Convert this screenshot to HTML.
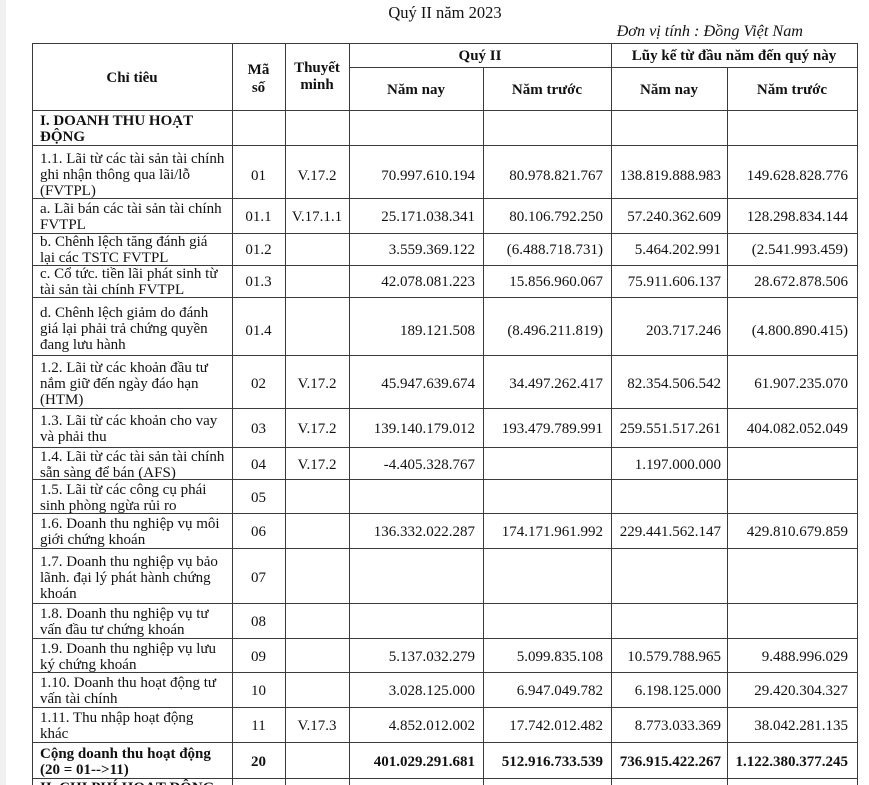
<!DOCTYPE html>
<html><head><meta charset="utf-8"><style>
html{margin:0;padding:0;width:869px;height:785px;overflow:hidden}
body{margin:0;padding:0;width:869px;height:785px;overflow:hidden;background:#fff;position:relative;font-family:"Liberation Serif",serif;color:#111;font-size:15px}
.strip{position:absolute;left:0;top:0;width:6px;height:785px;background:#f1f1f1}
.h{position:absolute;left:32px;width:826px;height:1.6px;background:#3a3a3a}
.v{position:absolute;width:1.6px;background:#3a3a3a}
.r{position:absolute;left:0;width:869px}
.r>div{position:absolute;top:0;bottom:0;display:flex;align-items:center;line-height:16px;white-space:nowrap}
.t{left:40px;width:190px}
.m{left:232px;width:53px;justify-content:center}
.n{left:285px;width:64px;justify-content:center}
.a1{left:349px;width:126px;justify-content:flex-end}
.a2{left:483px;width:120px;justify-content:flex-end}
.a3{left:611px;width:110px;justify-content:flex-end}
.a4{left:727px;width:121px;justify-content:flex-end}
.b{font-weight:bold}
.hd{position:absolute;display:flex;align-items:center;justify-content:center;text-align:center;font-weight:bold;line-height:17px}
</style></head><body>
<div class="strip"></div>

<div style="position:absolute;left:0;top:3px;width:890px;text-align:center;font-size:16.5px;line-height:20px">Quý II năm 2023</div>
<div style="position:absolute;right:66px;top:21px;font-size:16.2px;line-height:20px;font-style:italic">Đơn vị tính : Đồng Việt Nam</div>

<!-- horizontal lines -->
<div class="h" style="top:42.5px"></div>
<div class="h" style="top:66.5px;left:349px;width:509px"></div>
<div class="h" style="top:109.5px"></div>
<div class="h" style="top:144.5px"></div>
<div class="h" style="top:197.5px"></div>
<div class="h" style="top:232.5px"></div>
<div class="h" style="top:264.5px"></div>
<div class="h" style="top:296.5px"></div>
<div class="h" style="top:354.5px"></div>
<div class="h" style="top:407.5px"></div>
<div class="h" style="top:446.5px"></div>
<div class="h" style="top:478.5px"></div>
<div class="h" style="top:512.5px"></div>
<div class="h" style="top:547.5px"></div>
<div class="h" style="top:602.5px"></div>
<div class="h" style="top:637.5px"></div>
<div class="h" style="top:671.5px"></div>
<div class="h" style="top:706.5px"></div>
<div class="h" style="top:741.5px"></div>
<div class="h" style="top:777.5px"></div>

<!-- vertical lines -->
<div class="v" style="left:31.5px;top:43px;height:742px"></div>
<div class="v" style="left:231.5px;top:43px;height:742px"></div>
<div class="v" style="left:284.5px;top:43px;height:742px"></div>
<div class="v" style="left:348.5px;top:43px;height:742px"></div>
<div class="v" style="left:482.5px;top:67px;height:718px"></div>
<div class="v" style="left:610.5px;top:43px;height:742px"></div>
<div class="v" style="left:726.5px;top:67px;height:718px"></div>
<div class="v" style="left:856.5px;top:43px;height:742px"></div>

<!-- header -->
<div class="hd" style="left:32px;width:200px;top:44.5px;height:67px">Chỉ tiêu</div>
<div class="hd" style="left:232px;width:53px;top:45.5px;height:67px;line-height:18px">Mã<br>số</div>
<div class="hd" style="left:285px;width:64px;top:43px;height:67px">Thuyết<br>minh</div>
<div class="hd" style="left:349px;width:262px;top:44px;height:24px">Quý II</div>
<div class="hd" style="left:611px;width:246px;top:44px;height:24px">Lũy kế từ đầu năm đến quý này</div>
<div class="hd" style="left:349px;width:134px;top:68.5px;height:43px">Năm nay</div>
<div class="hd" style="left:483px;width:128px;top:68.5px;height:43px">Năm trước</div>
<div class="hd" style="left:611px;width:116px;top:68.5px;height:43px">Năm nay</div>
<div class="hd" style="left:727px;width:130px;top:68.5px;height:43px">Năm trước</div>

<!-- rows -->
<div class="r" style="top:111px;height:35px"><div class="t b"><span>I. DOANH THU HOẠT<br>ĐỘNG</span></div></div>

<div class="r" style="top:148px;height:53px"><div class="t"><span>1.1. Lãi từ các tài sản tài chính<br>ghi nhận thông qua lãi/lỗ<br>(FVTPL)</span></div>
<div class="m" style="padding-top:3px">01</div><div class="n" style="padding-top:3px">V.17.2</div><div class="a1" style="padding-top:3px">70.997.610.194</div><div class="a2" style="padding-top:3px">80.978.821.767</div><div class="a3" style="padding-top:3px">138.819.888.983</div><div class="a4" style="padding-top:3px">149.628.828.776</div></div>

<div class="r" style="top:199.5px;height:35px"><div class="t"><span>a. Lãi bán các tài sản tài chính<br>FVTPL</span></div>
<div class="m">01.1</div><div class="n">V.17.1.1</div><div class="a1">25.171.038.341</div><div class="a2">80.106.792.250</div><div class="a3">57.240.362.609</div><div class="a4">128.298.834.144</div></div>

<div class="r" style="top:234px;height:32px"><div class="t"><span>b. Chênh lệch tăng đánh giá<br>lại các TSTC FVTPL</span></div>
<div class="m">01.2</div><div class="n"></div><div class="a1">3.559.369.122</div><div class="a2">(6.488.718.731)</div><div class="a3">5.464.202.991</div><div class="a4">(2.541.993.459)</div></div>

<div class="r" style="top:266px;height:32px"><div class="t"><span>c. Cổ tức. tiền lãi phát sinh từ<br>tài sản tài chính FVTPL</span></div>
<div class="m">01.3</div><div class="n"></div><div class="a1">42.078.081.223</div><div class="a2">15.856.960.067</div><div class="a3">75.911.606.137</div><div class="a4">28.672.878.506</div></div>

<div class="r" style="top:300px;height:58px"><div class="t"><span>d. Chênh lệch giảm do đánh<br>giá lại phải trả chứng quyền<br>đang lưu hành</span></div>
<div class="m" style="padding-top:3px">01.4</div><div class="a1" style="padding-top:3px">189.121.508</div><div class="a2" style="padding-top:3px">(8.496.211.819)</div><div class="a3" style="padding-top:3px">203.717.246</div><div class="a4" style="padding-top:3px">(4.800.890.415)</div></div>

<div class="r" style="top:357px;height:53px"><div class="t"><span>1.2. Lãi từ các khoản đầu tư<br>nắm giữ đến ngày đáo hạn<br>(HTM)</span></div>
<div class="m">02</div><div class="n">V.17.2</div><div class="a1">45.947.639.674</div><div class="a2">34.497.262.417</div><div class="a3">82.354.506.542</div><div class="a4">61.907.235.070</div></div>

<div class="r" style="top:409.5px;height:39px"><div class="t"><span>1.3. Lãi từ các khoản cho vay<br>và phải thu</span></div>
<div class="m">03</div><div class="n">V.17.2</div><div class="a1">139.140.179.012</div><div class="a2">193.479.789.991</div><div class="a3">259.551.517.261</div><div class="a4">404.082.052.049</div></div>

<div class="r" style="top:448.5px;height:32px"><div class="t"><span>1.4. Lãi từ các tài sản tài chính<br>sẵn sàng để bán (AFS)</span></div>
<div class="m">04</div><div class="n">V.17.2</div><div class="a1">-4.405.328.767</div><div class="a3">1.197.000.000</div></div>

<div class="r" style="top:480.5px;height:34px"><div class="t"><span>1.5. Lãi từ các công cụ phái<br>sinh phòng ngừa rủi ro</span></div>
<div class="m">05</div></div>

<div class="r" style="top:514.5px;height:35px"><div class="t"><span>1.6. Doanh thu nghiệp vụ môi<br>giới chứng khoán</span></div>
<div class="m">06</div><div class="a1">136.332.022.287</div><div class="a2">174.171.961.992</div><div class="a3">229.441.562.147</div><div class="a4">429.810.679.859</div></div>

<div class="r" style="top:550px;height:55px"><div class="t"><span>1.7. Doanh thu nghiệp vụ bảo<br>lãnh. đại lý phát hành chứng<br>khoán</span></div>
<div class="m">07</div></div>

<div class="r" style="top:604.5px;height:35px"><div class="t"><span>1.8. Doanh thu nghiệp vụ tư<br>vấn đầu tư chứng khoán</span></div>
<div class="m">08</div></div>

<div class="r" style="top:639.5px;height:34px"><div class="t"><span>1.9. Doanh thu nghiệp vụ lưu<br>ký chứng khoán</span></div>
<div class="m">09</div><div class="a1">5.137.032.279</div><div class="a2">5.099.835.108</div><div class="a3">10.579.788.965</div><div class="a4">9.488.996.029</div></div>

<div class="r" style="top:673.5px;height:35px"><div class="t"><span>1.10. Doanh thu hoạt động tư<br>vấn tài chính</span></div>
<div class="m">10</div><div class="a1">3.028.125.000</div><div class="a2">6.947.049.782</div><div class="a3">6.198.125.000</div><div class="a4">29.420.304.327</div></div>

<div class="r" style="top:708.5px;height:35px"><div class="t"><span>1.11. Thu nhập hoạt động<br>khác</span></div>
<div class="m">11</div><div class="n">V.17.3</div><div class="a1">4.852.012.002</div><div class="a2">17.742.012.482</div><div class="a3">8.773.033.369</div><div class="a4">38.042.281.135</div></div>

<div class="r b" style="top:743.5px;height:36px"><div class="t"><span>Cộng doanh thu hoạt động<br>(20 = 01--&gt;11)</span></div>
<div class="m">20</div><div class="a1">401.029.291.681</div><div class="a2">512.916.733.539</div><div class="a3">736.915.422.267</div><div class="a4">1.122.380.377.245</div></div>

<div style="position:absolute;left:40px;top:780px;line-height:16px;font-weight:bold;white-space:nowrap">II. CHI PHÍ HOẠT ĐỘNG</div>
</body></html>
